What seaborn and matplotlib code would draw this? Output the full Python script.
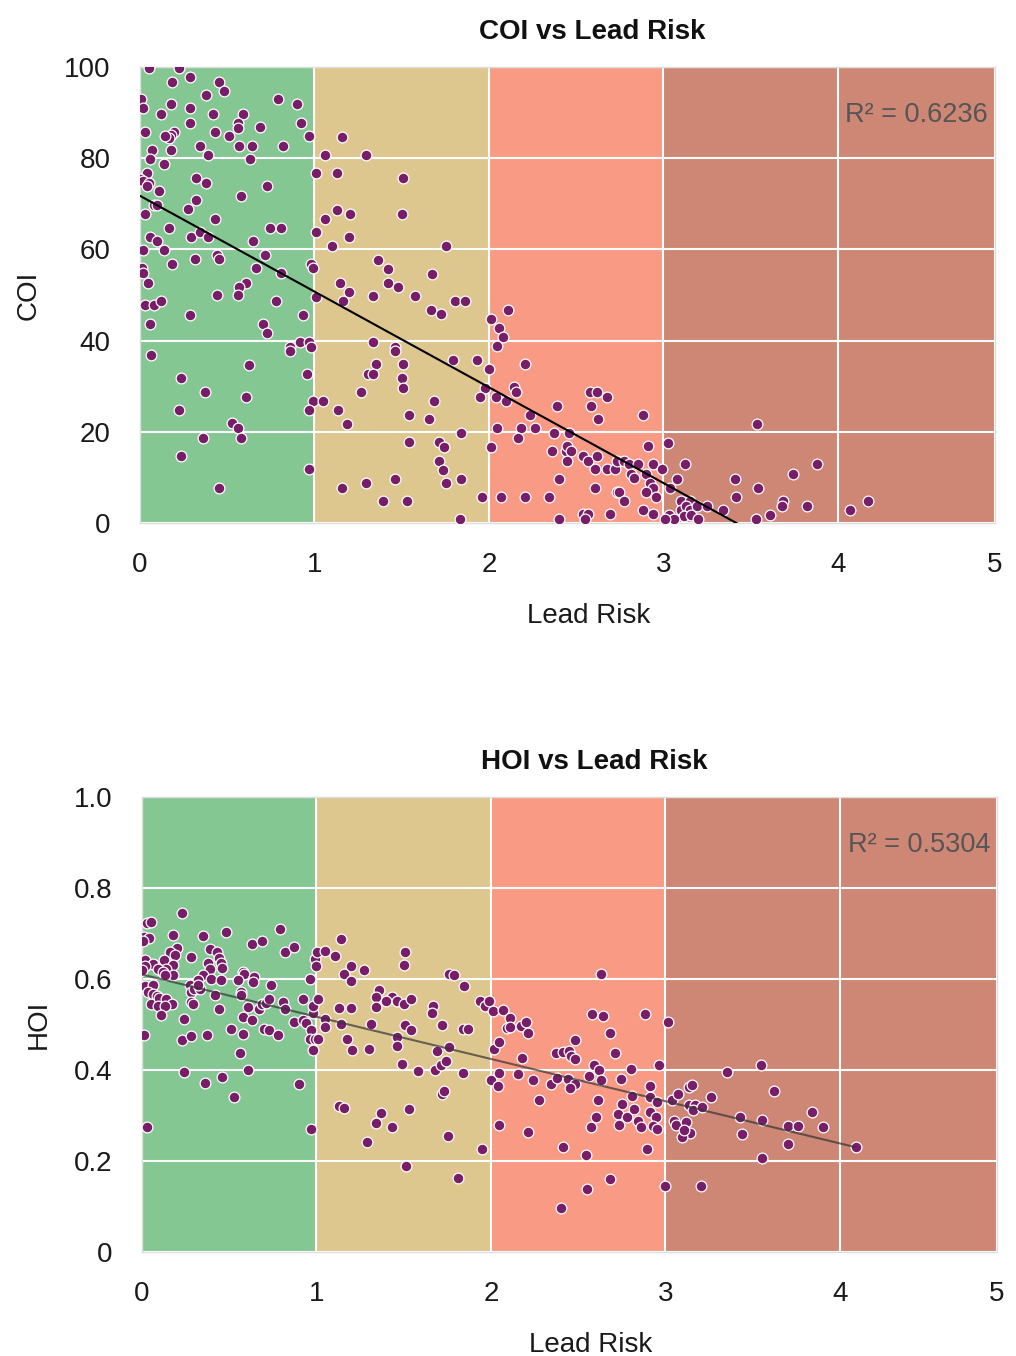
import matplotlib
matplotlib.use("Agg")
import matplotlib.pyplot as plt
import pandas as pd
import seaborn as sns

# Top panel: COI against lead risk
coi_risk = [
    0.05, 0.225, 0.186, 0.284, 0.45, 0.48, 0.38, 0.006, 0.02, 0.176,
    0.118, 0.284, 0.42, 0.284, 0.59, 0.79, 0.90, 0.92, 0.97, 0.56,
    0.56, 0.69, 0.43, 0.51, 0.03, 0.196, 0.18, 0.167, 0.143, 0.343,
    0.069, 0.176, 0.39, 0.57, 0.64, 0.82, 0.059, 0.137, 0.63, 1.06,
    1.01, 0.04, 0.0, 0.016, 0.05, 0.04, 0.32, 0.38, 0.725, 0.108,
    0.58, 0.32, 0.078, 0.098, 0.274, 0.03, 0.43, 1.06, 0.167, 0.745,
    0.81, 1.01, 0.059, 0.098, 0.294, 0.343, 0.39, 0.647, 0.02, 0.137,
    0.715, 0.314, 0.44, 0.45, 0.186, 0.01, 0.015, 0.666, 0.98, 0.99,
    0.81, 0.044, 0.61, 0.57, 0.44, 0.56, 0.03, 0.078, 0.118, 0.284,
    0.78, 1.01, 0.936, 0.059, 0.705, 0.725, 0.063, 0.862, 0.862, 0.916,
    0.97, 0.98, 0.627, 0.955, 0.235, 0.372, 0.608, 0.225, 0.99, 1.05,
    0.97, 0.53, 0.56, 0.578, 0.363, 0.235, 0.97, 0.45,
    1.156, 1.294, 1.127, 1.51, 1.127, 1.205, 1.50, 1.196, 1.098, 1.754,
    1.362, 1.42, 1.676, 1.147, 1.196, 1.166, 1.42, 1.48, 1.333, 1.578,
    1.803, 1.862, 1.666, 1.725, 2.01, 1.333, 1.46, 1.46, 1.352, 1.308,
    1.333, 1.51, 1.50, 1.51, 1.793, 1.93, 2.0, 1.98, 1.95, 1.264,
    1.686, 1.137, 1.186, 1.539, 1.656, 1.842, 1.539, 1.715, 1.744, 1.715,
    1.735, 1.754, 1.842, 1.46, 1.294, 1.156, 1.392, 1.529, 1.96, 1.833,
    2.01, 2.048,
    2.107, 2.058, 2.078, 2.048, 2.205, 2.038, 2.146, 2.156, 2.097, 2.577,
    2.617, 2.675, 2.587, 2.391, 2.234, 2.626, 2.881, 2.185, 2.264, 2.166,
    2.372, 2.46, 2.362, 2.44, 2.45, 2.47, 2.45, 2.538, 2.568, 2.617,
    2.911, 2.607, 2.675, 2.724, 2.734, 2.773, 2.803, 2.852, 2.94, 2.99,
    2.813, 2.832, 2.90, 2.92, 2.94, 2.40, 2.607, 2.734, 2.744, 2.90,
    2.96, 2.773, 2.068, 2.205, 2.342, 2.881, 2.538, 2.568, 2.548, 2.695,
    2.94, 2.40,
    3.025, 3.126, 3.08, 3.04, 3.41, 3.74, 3.88, 3.54, 3.535, 3.415,
    3.686, 3.68, 3.82, 4.17, 4.07, 3.10, 3.15, 3.10, 3.13, 3.15,
    3.19, 3.25, 3.34, 3.12, 3.16, 3.20, 3.03, 3.06, 3.01, 3.53,
    3.61,
]
coi_value = [
    99.7, 99.8, 96.8, 97.7, 96.8, 94.7, 93.8, 92.9, 90.9, 91.8,
    89.8, 90.9, 89.8, 87.8, 89.8, 92.9, 91.8, 87.8, 84.9, 87.8,
    86.7, 86.8, 85.7, 84.9, 85.7, 85.8, 85.1, 84.4, 84.9, 82.7,
    81.8, 81.7, 80.7, 82.7, 82.7, 82.7, 79.8, 78.8, 79.8, 80.7,
    76.7, 76.8, 75.5, 74.9, 74.6, 73.9, 75.7, 74.6, 73.8, 72.8,
    71.7, 70.8, 69.7, 69.7, 68.8, 67.8, 66.7, 66.7, 64.7, 64.7,
    64.7, 63.9, 62.8, 61.8, 62.8, 63.9, 62.8, 61.8, 59.8, 59.8,
    58.7, 57.8, 58.7, 57.8, 56.7, 55.9, 54.8, 55.9, 56.7, 56.0,
    54.8, 52.7, 52.7, 51.8, 50.1, 50.1, 47.7, 47.7, 48.7, 45.6,
    48.7, 49.6, 45.6, 43.7, 43.7, 41.7, 36.8, 38.7, 37.7, 39.7,
    39.7, 38.7, 34.6, 32.7, 31.7, 28.7, 27.7, 24.7, 26.8, 26.8,
    24.7, 22.0, 20.9, 18.7, 18.7, 14.7, 11.8, 7.7,
    84.7, 80.7, 76.7, 75.7, 68.6, 67.7, 67.7, 62.7, 60.7, 60.7,
    57.7, 55.7, 54.7, 52.6, 50.7, 48.7, 52.6, 51.7, 49.7, 49.7,
    48.7, 48.7, 46.7, 45.8, 44.7, 39.8, 38.7, 37.7, 34.8, 32.7,
    32.7, 34.8, 31.7, 29.7, 35.7, 35.7, 33.7, 29.7, 27.7, 28.7,
    26.8, 24.7, 21.7, 23.7, 22.7, 19.7, 17.7, 17.7, 16.7, 13.7,
    11.7, 8.8, 9.7, 9.7, 8.8, 7.7, 4.8, 4.8, 5.7, 0.8,
    16.7, 20.9,
    46.7, 42.8, 40.8, 38.8, 34.8, 27.6, 29.8, 28.8, 26.8, 28.8,
    28.8, 27.6, 25.7, 25.7, 23.7, 22.7, 23.7, 20.8, 20.8, 18.7,
    19.7, 19.7, 15.8, 15.8, 16.9, 15.8, 13.7, 14.8, 13.7, 14.8,
    16.8, 11.8, 11.8, 11.8, 13.7, 13.7, 12.9, 12.9, 12.9, 11.8,
    10.8, 9.8, 10.8, 8.8, 7.7, 9.7, 7.7, 6.8, 6.8, 6.8,
    5.8, 4.8, 5.8, 5.8, 5.8, 2.9, 1.9, 1.9, 0.8, 1.9,
    1.9, 0.8,
    17.6, 12.9, 9.7, 7.6, 9.7, 10.8, 12.9, 7.7, 21.8, 5.7,
    4.8, 3.7, 3.7, 4.8, 2.8, 4.8, 4.8, 2.8, 3.7, 2.8,
    3.7, 3.7, 2.8, 1.5, 1.8, 0.8, 1.8, 0.8, 0.8, 0.8,
    1.8,
]

# Bottom panel: HOI against lead risk
hoi_risk = [
    0.23, 0.027, 0.05, 0.013, 0.04, 0.004, 0.18, 0.35, 0.48, 0.79,
    0.63, 0.685, 0.82, 0.87, 0.20, 0.16, 0.19, 0.28, 0.39, 0.43,
    0.44, 0.017, 0.065, 0.017, 0.0, 0.128, 0.18, 0.14, 0.093, 0.12,
    0.176, 0.13, 0.38, 0.45, 0.39, 0.46, 0.35, 0.395, 0.45, 0.32,
    0.576, 0.586, 0.643, 0.55, 0.634, 0.017, 0.065, 0.036, 0.061, 0.084,
    0.275, 0.28, 0.30, 0.33, 0.32, 0.74, 0.57, 0.57, 0.42, 0.05,
    0.10, 0.093, 0.14, 0.17, 0.13, 0.28, 0.29, 0.61, 0.67, 0.685,
    0.71, 0.73, 0.81, 0.82, 0.92, 0.44, 0.11, 0.24, 0.58, 0.63,
    0.87, 0.92, 0.94, 0.98, 0.98, 1.01, 1.05, 1.05, 0.01, 0.23,
    0.28, 0.37, 0.51, 0.58, 0.70, 0.73, 0.78, 0.97, 0.96, 0.99,
    1.01, 0.98, 0.56, 0.99, 1.005, 1.05, 0.96, 1.0,
    0.24, 0.36, 0.46, 0.61, 0.90, 0.53, 0.03, 0.97,
    1.14, 1.105, 1.51, 1.50, 1.196, 1.27, 1.158, 1.195, 1.76, 1.79,
    1.845, 1.36, 1.34, 1.43, 1.40, 1.46, 1.50, 1.54, 1.34, 1.13,
    1.196, 1.67, 1.66, 1.935, 1.963, 1.99, 2.01, 1.14, 1.31, 1.51,
    1.54, 1.72, 1.84, 1.87, 1.175, 1.206, 1.30, 1.46, 1.46, 1.69,
    1.76, 2.015, 2.045, 1.49, 1.58, 1.68, 1.715, 1.74, 1.84, 2.0,
    2.04, 2.045, 1.72, 1.73, 1.13, 1.16, 1.37, 1.53, 1.34, 1.43,
    1.755, 1.29, 1.95, 1.515, 1.81, 2.045,
    2.63, 2.07, 2.11, 2.09, 2.11, 2.17, 2.20, 2.215, 2.58, 2.64,
    2.885, 3.017, 2.48, 2.68, 2.18, 2.37, 2.41, 2.45, 2.46, 2.48,
    2.71, 2.59, 2.62, 2.805, 2.965, 2.154, 2.24, 2.345, 2.377, 2.44,
    2.48, 2.454, 2.56, 2.63, 2.746, 2.91, 2.274, 2.616, 2.81, 2.91,
    2.95, 3.04, 3.07, 2.75, 2.73, 2.78, 2.82, 2.84, 2.86, 2.91,
    2.946, 2.927, 2.95, 2.60, 2.574, 2.732, 2.21, 3.05, 3.06, 2.41,
    2.545, 2.895, 2.68, 2.55, 3.0, 2.40,
    3.547, 3.35, 3.133, 3.152, 3.26, 3.623, 3.84, 3.133, 3.17, 3.16,
    3.21, 3.427, 3.553, 3.70, 3.76, 3.90, 3.118, 3.14, 3.093, 3.108,
    3.436, 3.70, 3.556, 4.09, 3.204,
]
hoi_value = [
    0.745, 0.723, 0.726, 0.692, 0.69, 0.683, 0.696, 0.694, 0.703, 0.710,
    0.678, 0.683, 0.66, 0.67, 0.668, 0.66, 0.652, 0.648, 0.666, 0.659,
    0.647, 0.641, 0.632, 0.628, 0.619, 0.641, 0.630, 0.623, 0.621, 0.616,
    0.608, 0.608, 0.636, 0.636, 0.621, 0.625, 0.608, 0.601, 0.597, 0.597,
    0.615, 0.61, 0.604, 0.597, 0.594, 0.584, 0.586, 0.572, 0.566, 0.562,
    0.586, 0.572, 0.577, 0.577, 0.586, 0.586, 0.572, 0.564, 0.564, 0.545,
    0.559, 0.54, 0.557, 0.545, 0.54, 0.55, 0.544, 0.538, 0.533, 0.544,
    0.548, 0.555, 0.55, 0.533, 0.556, 0.533, 0.52, 0.512, 0.516, 0.509,
    0.505, 0.509, 0.504, 0.526, 0.54, 0.556, 0.513, 0.494, 0.476, 0.465,
    0.474, 0.478, 0.491, 0.480, 0.491, 0.487, 0.478, 0.489, 0.469, 0.469,
    0.469, 0.445, 0.438, 0.645, 0.66, 0.661, 0.599, 0.628,
    0.396, 0.372, 0.385, 0.399, 0.370, 0.340, 0.274, 0.271,
    0.687, 0.65, 0.66, 0.63, 0.628, 0.619, 0.61, 0.595, 0.61, 0.608,
    0.584, 0.575, 0.561, 0.561, 0.551, 0.551, 0.545, 0.555, 0.538, 0.537,
    0.537, 0.540, 0.526, 0.551, 0.540, 0.551, 0.529, 0.502, 0.502, 0.498,
    0.487, 0.498, 0.491, 0.491, 0.468, 0.443, 0.447, 0.473, 0.452, 0.441,
    0.451, 0.447, 0.462, 0.414, 0.397, 0.399, 0.41, 0.419, 0.394, 0.377,
    0.364, 0.394, 0.348, 0.353, 0.320, 0.317, 0.306, 0.315, 0.284, 0.274,
    0.256, 0.241, 0.227, 0.189, 0.162, 0.28,
    0.610, 0.531, 0.515, 0.493, 0.494, 0.496, 0.506, 0.482, 0.522, 0.518,
    0.522, 0.505, 0.467, 0.482, 0.427, 0.438, 0.439, 0.441, 0.430, 0.425,
    0.438, 0.41, 0.401, 0.403, 0.41, 0.392, 0.378, 0.37, 0.383, 0.381,
    0.37, 0.361, 0.386, 0.378, 0.381, 0.364, 0.334, 0.335, 0.342, 0.34,
    0.329, 0.335, 0.348, 0.326, 0.304, 0.297, 0.315, 0.289, 0.274, 0.307,
    0.297, 0.278, 0.271, 0.296, 0.274, 0.279, 0.263, 0.287, 0.279, 0.230,
    0.214, 0.227, 0.161, 0.139, 0.145, 0.097,
    0.412, 0.395, 0.362, 0.367, 0.340, 0.353, 0.308, 0.323, 0.324, 0.313,
    0.318, 0.296, 0.291, 0.278, 0.278, 0.275, 0.285, 0.262, 0.253, 0.269,
    0.260, 0.238, 0.207, 0.231, 0.146,
]

# Risk bands and axis setup
band_edges = [0, 1, 2, 3, 4.9]
band_colors = ["#84C793", "#DEC78F", "#F99B84", "#CE8675"]
x_ticks = [0, 1, 2, 3, 4, 4.9]
x_tick_labels = ["0", "1", "2", "3", "4", "5"]
coi_ticks = [0, 20, 40, 60, 80, 100]
coi_tick_labels = ["0", "20", "40", "60", "80", "100"]
hoi_ticks = [0, 0.2, 0.4, 0.6, 0.8, 1.0]
hoi_tick_labels = ["0", "0.2", "0.4", "0.6", "0.8", "1.0"]
r2_labels = ["R\u00b2 = 0.6236", "R\u00b2 = 0.5304"]

POINT_COLOR = "#781E68"
FS = 20


def draw_panel(ax, df, ycol, title, ylim, yticks, yticklabels, r2_text, line_kws):
    # coloured risk bands behind everything
    for lo, hi, c in zip(band_edges[:-1], band_edges[1:], band_colors):
        ax.axvspan(lo, hi, color=c, lw=0, zorder=0)

    sns.scatterplot(data=df, x="Lead Risk", y=ycol, ax=ax, color=POINT_COLOR,
                    s=60, edgecolor="white", linewidth=0.9, zorder=3)
    sns.regplot(data=df, x="Lead Risk", y=ycol, ax=ax, scatter=False, ci=None,
                truncate=True, line_kws=line_kws)

    ax.set_xlim(0, 4.9)
    ax.set_ylim(*ylim)
    ax.set_xticks(x_ticks)
    ax.set_xticklabels(x_tick_labels)
    ax.set_yticks(yticks)
    ax.set_yticklabels(yticklabels)
    ax.set_axisbelow(True)
    ax.grid(True, color="white", lw=1.5)
    ax.tick_params(axis="both", length=0, labelsize=FS, colors="#1a1a1a")
    ax.tick_params(axis="x", pad=21)
    ax.tick_params(axis="y", pad=21)
    for s in ax.spines.values():
        s.set_color("#dddddd")
        s.set_linewidth(1)

    ax.set_title(title, fontsize=FS, fontweight="bold", pad=20, x=0.529,
                 color="#111111")
    ax.set_xlabel("Lead Risk", fontsize=FS, labelpad=18, x=0.525, color="#1a1a1a")
    ax.set_ylabel(ycol, fontsize=FS, labelpad=16, color="#1a1a1a")
    ax.text(0.992, 0.895, r2_text, transform=ax.transAxes, ha="right",
            va="center", fontsize=19.5, color="#555555", zorder=5)


def main():
    sns.set_theme(style="whitegrid")
    plt.rcParams["font.family"] = ["Liberation Sans", "DejaVu Sans"]

    coi_df = pd.DataFrame({"Lead Risk": coi_risk, "COI": coi_value})
    hoi_df = pd.DataFrame({"Lead Risk": hoi_risk, "HOI": hoi_value})

    fig = plt.figure(figsize=(10.16, 13.56), dpi=100)
    ax_top = fig.add_axes([140 / 1016, 1 - 523 / 1356, 855 / 1016, 456 / 1356])
    ax_bot = fig.add_axes([142 / 1016, 1 - 1252 / 1356, 855 / 1016, 455 / 1356])

    draw_panel(ax_top, coi_df, "COI", "COI vs Lead Risk", (0, 100),
               coi_ticks, coi_tick_labels, r2_labels[0],
               {"color": "black", "lw": 1.5, "zorder": 4})
    draw_panel(ax_bot, hoi_df, "HOI", "HOI vs Lead Risk", (0, 1.0),
               hoi_ticks, hoi_tick_labels, r2_labels[1],
               {"color": "#333333", "lw": 1.5, "alpha": 0.7, "zorder": 4})

    fig.savefig("out.png", dpi=100)
    plt.close(fig)


if __name__ == "__main__":
    main()
